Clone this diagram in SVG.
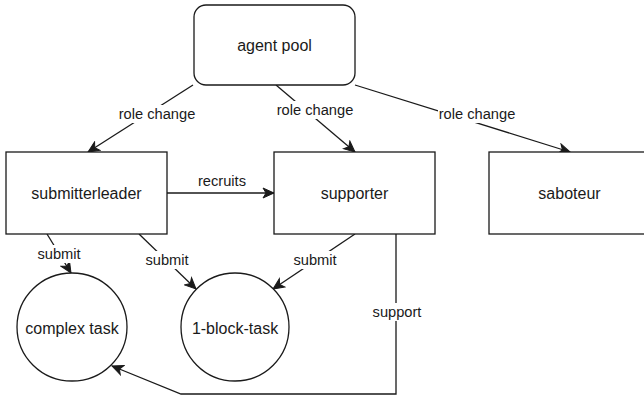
<svg xmlns="http://www.w3.org/2000/svg" width="644" height="398" viewBox="0 0 644 398">
  <style>
    .shape { fill: #ffffff; stroke: #1a1a1a; stroke-width: 1.3; }
    .node-text { font-family: "Liberation Sans", Arial, sans-serif; font-size: 16px; fill: #1a1a1a; text-anchor: middle; dominant-baseline: central; }
    .edge { fill: none; stroke: #1a1a1a; stroke-width: 1.3; marker-end: url(#arrow); }
    .label-bg { fill: #ffffff; }
    .edge-text { font-family: "Liberation Sans", Arial, sans-serif; font-size: 14.67px; fill: #1a1a1a; text-anchor: middle; dominant-baseline: central; }
  </style>
  <defs>
    <marker id="arrow" markerUnits="userSpaceOnUse" markerWidth="14" markerHeight="12" viewBox="0 0 14 12" refX="12" refY="6" orient="auto">
      <path d="M1,1 L12,6 L1,11 L4,6 Z" fill="#1a1a1a" stroke="#1a1a1a" stroke-width="1"/>
    </marker>
  </defs>

  <rect width="644" height="398" fill="#ffffff"/>

  <!-- connectors -->
  <g id="connectors">
    <line class="edge" x1="193" y1="85" x2="88" y2="152"/>
    <line class="edge" x1="276" y1="85" x2="355" y2="152"/>
    <line class="edge" x1="355" y1="85" x2="570" y2="152"/>
    <line class="edge" x1="167" y1="193" x2="274" y2="193"/>
    <line class="edge" x1="47" y1="234" x2="71" y2="273"/>
    <line class="edge" x1="139" y1="234" x2="196" y2="289"/>
    <line class="edge" x1="355" y1="234" x2="273" y2="289"/>
    <polyline class="edge" points="396,234 396,394 181,394 112,366"/>

    <!-- edge labels -->
    <rect class="label-bg" x="118" y="105" width="78" height="18"/>
    <text class="edge-text" x="157" y="114">role change</text>
    <rect class="label-bg" x="276" y="101" width="78" height="18"/>
    <text class="edge-text" x="315" y="110">role change</text>
    <rect class="label-bg" x="438" y="105" width="78" height="18"/>
    <text class="edge-text" x="477" y="114">role change</text>
    <text class="edge-text" x="222" y="181">recruits</text>
    <rect class="label-bg" x="37" y="245" width="44" height="18"/>
    <text class="edge-text" x="59" y="254">submit</text>
    <rect class="label-bg" x="145" y="251" width="44" height="18"/>
    <text class="edge-text" x="167" y="260">submit</text>
    <rect class="label-bg" x="293" y="251" width="44" height="18"/>
    <text class="edge-text" x="315" y="260">submit</text>
    <rect class="label-bg" x="371" y="303" width="52" height="18"/>
    <text class="edge-text" x="397" y="312">support</text>
  </g>

  <!-- nodes -->
  <g id="agent-pool">
    <rect class="shape" x="194" y="5" width="161" height="80" rx="12" ry="12"/>
    <text class="node-text" x="274.5" y="45">agent pool</text>
  </g>
  <g id="submitterleader">
    <rect class="shape" x="6" y="152" width="161" height="82"/>
    <text class="node-text" x="86.5" y="193">submitterleader</text>
  </g>
  <g id="supporter">
    <rect class="shape" x="274" y="152" width="161" height="82"/>
    <text class="node-text" x="354.5" y="193">supporter</text>
  </g>
  <g id="saboteur">
    <rect class="shape" x="489" y="152" width="161" height="82"/>
    <text class="node-text" x="569.5" y="193">saboteur</text>
  </g>
  <g id="complex-task">
    <ellipse class="shape" cx="72" cy="327" rx="55" ry="54"/>
    <text class="node-text" x="72" y="328">complex task</text>
  </g>
  <g id="one-block-task">
    <ellipse class="shape" cx="235" cy="327" rx="54" ry="54"/>
    <text class="node-text" x="235" y="328">1-block-task</text>
  </g>
</svg>
